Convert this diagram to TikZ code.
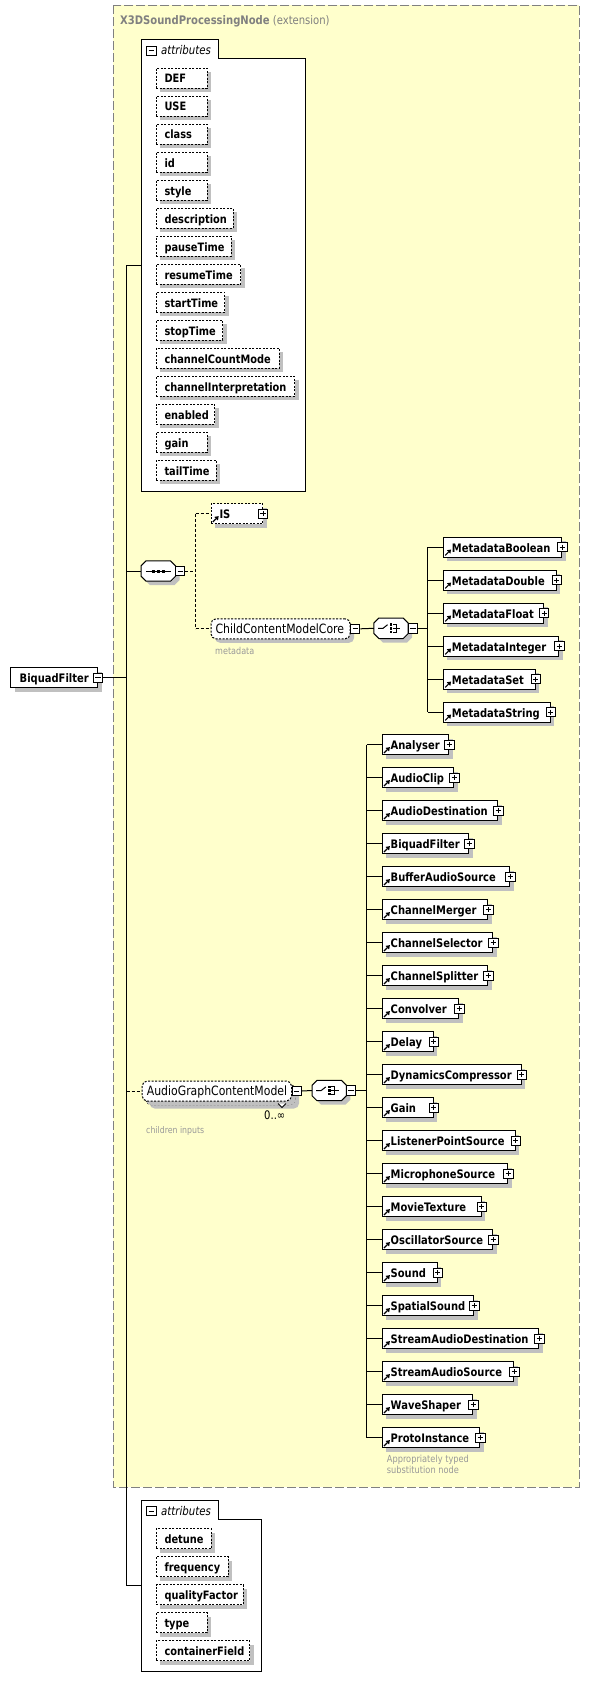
\documentclass[tikz,border=0pt]{standalone}
\usepackage{fontspec}
\setmainfont{DejaVu Sans}[FakeStretch=0.85]
\usetikzlibrary{shadows}
\definecolor{xyellow}{HTML}{FFFFCC}
\definecolor{xshadow}{HTML}{C0C0C0}
\definecolor{xgray}{HTML}{808080}
\definecolor{xlight}{HTML}{999999}
\tikzset{
  shd/.style={general shadow={fill=xshadow,shadow xshift=4pt,shadow yshift=-4pt}},
  elbox/.style={rectangle,draw=black,fill=white,line width=1pt,minimum height=20pt,inner sep=0pt,anchor=north west,shd},
  atbox/.style={elbox,dash pattern=on 2pt off 1.5pt},
  grpbox/.style={elbox,rounded corners=5pt,dash pattern=on 2pt off 1.5pt},
  eltext/.style={anchor=base west,inner sep=0pt,font=\fontsize{11.7pt}{13pt}\selectfont\bfseries},
  attext/.style={anchor=base west,inner sep=0pt,font=\fontsize{11.55pt}{13pt}\selectfont\bfseries},
  grptext/.style={anchor=base west,inner sep=0pt,font=\fontsize{12.8pt}{14pt}\selectfont},
  note/.style={anchor=base west,inner sep=0pt,text=xlight,font=\fontsize{9.5pt}{11pt}\selectfont},
  tabtext/.style={anchor=base west,inner sep=0pt,font=\fontsize{12pt}{13pt}\selectfont\itshape},
  pmbox/.style={rectangle,draw=black,fill=white,line width=0.9pt,minimum size=9.3pt,inner sep=0pt},
  minusbox/.style={pmbox,path picture={\draw[line width=0.9pt] ([xshift=2pt]path picture bounding box.west) -- ([xshift=-2pt]path picture bounding box.east);}},
  plusbox/.style={pmbox,path picture={\draw[line width=0.9pt] ([xshift=2pt]path picture bounding box.west) -- ([xshift=-2pt]path picture bounding box.east) ([yshift=-2pt]path picture bounding box.north) -- ([yshift=2pt]path picture bounding box.south);}},
  wire/.style={line width=1pt,draw=black},
  dwire/.style={wire,dash pattern=on 3pt off 2pt},
  symb/.style={rectangle,minimum width=34pt,minimum height=20pt,inner sep=0pt},
}
% reference arrow icon at bottom-left corner of a box
\newcommand\refarrow[1]{%
  \draw[line width=1.2pt] ([xshift=2.3pt,yshift=2.3pt]#1.south west) -- ([xshift=5.6pt,yshift=5.6pt]#1.south west);
  \fill ([xshift=8.2pt,yshift=8.2pt]#1.south west) -- ([xshift=3.9pt,yshift=7.4pt]#1.south west) -- ([xshift=7.4pt,yshift=3.9pt]#1.south west) -- cycle;
}
% element box: [style]{name}{left}{top}{right}{text}
\newcommand\elnode[6][elbox]{%
  \node[#1,minimum width={(#5-#3)*1pt}] (#2) at (#3,#4) {};
  \node[eltext] (#2-t) at ([xshift=8.8pt,yshift=-4.8pt]#2.west) {#6};
  \node[plusbox] (#2-p) at (#2.east) {};
  \refarrow{#2}
}
% attribute box: {name}{left}{top}{right}{text}
\newcommand\atnode[5]{%
  \node[atbox,minimum width={(#4-#2)*1pt}] (#1) at (#2,#3) {};
  \node[attext] (#1-t) at ([xshift=8.6pt,yshift=-4.8pt]#1.west) {#5};
}
\newcommand\octo[1]{%
  \draw[line width=1pt,fill=white,shd] ([xshift=5pt]#1.north west) -- ([xshift=-5pt]#1.north east) -- ([yshift=-5pt]#1.north east) -- ([yshift=5pt]#1.south east) -- ([xshift=-5pt]#1.south east) -- ([xshift=5pt]#1.south west) -- ([yshift=5pt]#1.south west) -- ([yshift=-5pt]#1.north west) -- cycle;
}
\newcommand\seqsym[1]{%
  \draw[line width=1pt] ([xshift=4.7pt]#1.west) -- ([xshift=-4.7pt]#1.east);
  \foreach \dx in {-4.7,0,4.7} \fill ([xshift=\dx pt]#1.center) +(-1.5,-1.5) rectangle +(1.5,1.5);
}
\newcommand\chsym[1]{%
  \draw[line width=1pt] ([xshift=-13pt]#1.center) -- ([xshift=-8pt]#1.center) -- ([xshift=-3.4pt,yshift=3.6pt]#1.center);
  \foreach \dy in {-3.7,0,3.7} \fill ([yshift=\dy pt]#1.center) +(-1.3,-1.2) rectangle +(1.3,1.2);
  \draw[line width=1pt] ([xshift=2pt,yshift=3.7pt]#1.center) -- ([xshift=5.4pt,yshift=3.7pt]#1.center) -- ([xshift=5.4pt,yshift=-3.7pt]#1.center) -- ([xshift=2pt,yshift=-3.7pt]#1.center);
  \draw[line width=1pt] ([xshift=1.5pt]#1.center) -- ([xshift=9.3pt]#1.center);
}
\begin{document}
\begin{tikzpicture}[x=1pt,y=-1pt]
\useasboundingbox (0,0) rectangle (590,1691);
% extension region
\draw[xgray,fill=xyellow,line width=1.2pt,dash pattern=on 9pt off 3pt] (113.3,5.3) rectangle (579.3,1487.3);
\node[anchor=base west,inner sep=0pt,text=xgray,font=\fontsize{11.8pt}{13pt}\selectfont] (title) at (120,24.3) {\textbf{X3DSoundProcessingNode} (extension)};

% main bus
\coordinate (busTop) at (126.7,265.2);
\coordinate (busBot) at (126.7,1585.5);
\coordinate (attrs1) at (141.7,265.2);
\coordinate (attrs2) at (141.7,1585.5);
\draw[wire] (busTop) -- (busBot);
\draw[wire] (busTop) -- (attrs1);
\draw[wire] (busBot) -- (attrs2);

% root element
\node[elbox,minimum width=86.8pt] (root) at (10.2,667.3) {};
\node[eltext] (root-t) at ([xshift=9.3pt,yshift=-4.8pt]root.west) {BiquadFilter};
\node[minusbox] (root-m) at (root.east) {};
\draw[wire] (root-m.east) -- (root-m.east -| busTop);

% attributes container (inherited)
\draw[wire,fill=white] (141.7,58.7) -- (141.7,39.3) -- (218.3,39.3) -- (218.3,58.7) -- (305.3,58.7) -- (305.3,491) -- (141.7,491) -- cycle;
\node[minusbox] (tab1-m) at (151.3,50.7) {};
\node[tabtext] (tab1-t) at (161,54.3) {attributes};
\atnode{aDEF}{155.7}{67.7}{206.7}{DEF}
\atnode{aUSE}{155.7}{95.7}{206.7}{USE}
\atnode{aclass}{155.7}{123.7}{206.7}{class}
\atnode{aid}{155.7}{151.7}{206.7}{id}
\atnode{astyle}{155.7}{179.7}{206.7}{style}
\atnode{adesc}{155.7}{207.7}{232.7}{description}
\atnode{apause}{155.7}{235.7}{230.7}{pauseTime}
\atnode{aresume}{155.7}{263.7}{240}{resumeTime}
\atnode{astart}{155.7}{291.7}{224.3}{startTime}
\atnode{astop}{155.7}{319.7}{222.3}{stopTime}
\atnode{accm}{155.7}{347.7}{278.7}{channelCountMode}
\atnode{aci}{155.7}{375.7}{294}{channelInterpretation}
\atnode{aenabled}{155.7}{403.7}{214.3}{enabled}
\atnode{again}{155.7}{431.7}{206.7}{gain}
\atnode{atail}{155.7}{459.7}{215.7}{tailTime}

% sequence
\node[symb] (seq) at (158.3,571) {};
\octo{seq}
\seqsym{seq}
\node[minusbox] (seq-m) at ([xshift=4.65pt]seq.east) {};
\draw[wire] (seq.west -| busTop) -- (seq.west);

% IS and ChildContentModelCore
\elnode[atbox]{is}{210.5}{503.3}{262}{IS}
\node[grpbox,minimum width=139.1pt] (ccmc) at (210.5,618.3) {};
\node[grptext] (ccmc-t) at ([xshift=4.9pt,yshift=-4.5pt]ccmc.west) {ChildContentModelCore};
\node[minusbox] (ccmc-m) at ([xshift=4.65pt]ccmc.east) {};
\node[note] (ccmc-n) at (215,654) {metadata};
\coordinate (sj) at (195.5,571);
\draw[dwire] (seq-m.east) -- (sj);
\draw[dwire] (is.west -| sj) -- (ccmc.west -| sj);
\draw[dwire] (is.west -| sj) -- (is.west);
\draw[dwire] (ccmc.west -| sj) -- (ccmc.west);

% choice metadata
\node[symb] (ch1) at (391,628.3) {};
\octo{ch1}
\chsym{ch1}
\node[minusbox] (ch1-m) at ([xshift=4.65pt]ch1.east) {};
\draw[wire] (ccmc-m.east) -- (ch1.west);
\coordinate (mbus) at (427.8,628.3);
\draw[wire] (ch1-m.east) -- (mbus);
\elnode{mBool}{442.9}{536.7}{561.3}{MetadataBoolean}
\elnode{mDouble}{442.9}{569.7}{555.6}{MetadataDouble}
\elnode{mFloat}{442.9}{602.7}{543.2}{MetadataFloat}
\elnode{mInt}{442.9}{635.7}{558.3}{MetadataInteger}
\elnode{mSet}{442.9}{668.7}{534.6}{MetadataSet}
\elnode{mStr}{442.9}{701.7}{549.6}{MetadataString}
\draw[wire] (mBool.west -| mbus) -- (mStr.west -| mbus);
\foreach \n in {mBool,mDouble,mFloat,mInt,mSet,mStr} \draw[wire] (\n.west -| mbus) -- (\n.west);

% AudioGraphContentModel
\node[grpbox,minimum width=149.3pt] (agcm-b) at (145.2,1084) {};
\node[grpbox,minimum width=149.3pt,general shadow={fill=none,draw=none}] (agcm) at (141.7,1080.5) {};
\draw[line width=0.8pt,fill=white] (278,1103.5) -- (282,1107.5) -- (286,1103.5);
\node[grptext] (agcm-t) at ([xshift=5pt,yshift=-4.5pt]agcm.west) {AudioGraphContentModel};
\node[minusbox] (agcm-m) at ([xshift=4.65pt]agcm.east) {};
\node[anchor=base west,inner sep=0pt,font=\fontsize{11.8pt}{13pt}\selectfont] (agcm-o) at (264,1119) {0..∞};
\node[note,font=\fontsize{9.2pt}{11pt}\selectfont] (agcm-n) at (146,1133) {children inputs};
\draw[dwire] (agcm.west -| busTop) -- (agcm.west);

% choice audio nodes
\node[symb] (ch2) at (329.2,1090.5) {};
\octo{ch2}
\chsym{ch2}
\node[minusbox] (ch2-m) at ([xshift=4.65pt]ch2.east) {};
\draw[wire] (agcm-m.east) -- (ch2.west);
\coordinate (abus) at (366.7,1090.5);
\draw[wire] (ch2-m.east) -- (abus);
\elnode{e1}{381.7}{734.3}{448.3}{Analyser}
\elnode{e2}{381.7}{767.3}{453.3}{AudioClip}
\elnode{e3}{381.7}{800.3}{497.3}{AudioDestination}
\elnode{e4}{381.7}{833.3}{468.3}{BiquadFilter}
\elnode{e5}{381.7}{866.3}{509.3}{BufferAudioSource}
\elnode{e6}{381.7}{899.3}{487.3}{ChannelMerger}
\elnode{e7}{381.7}{932.3}{492.3}{ChannelSelector}
\elnode{e8}{381.7}{965.3}{487.3}{ChannelSplitter}
\elnode{e9}{381.7}{998.3}{458.3}{Convolver}
\elnode{e10}{381.7}{1031.3}{432.7}{Delay}
\elnode{e11}{381.7}{1064.3}{520.7}{DynamicsCompressor}
\elnode{e12}{381.7}{1097.3}{432.7}{Gain}
\elnode{e13}{381.7}{1130.3}{514.7}{ListenerPointSource}
\elnode{e14}{381.7}{1163.3}{507.3}{MicrophoneSource}
\elnode{e15}{381.7}{1196.3}{480.7}{MovieTexture}
\elnode{e16}{381.7}{1229.3}{492.3}{OscillatorSource}
\elnode{e17}{381.7}{1262.3}{436.7}{Sound}
\elnode{e18}{381.7}{1295.3}{473.3}{SpatialSound}
\elnode{e19}{381.7}{1328.3}{538.3}{StreamAudioDestination}
\elnode{e20}{381.7}{1361.3}{513.3}{StreamAudioSource}
\elnode{e21}{381.7}{1394.3}{472.3}{WaveShaper}
\elnode{e22}{381.7}{1427.3}{479.3}{ProtoInstance}
\draw[wire] (e1.west -| abus) -- (e22.west -| abus);
\foreach \i in {1,...,22} \draw[wire] (e\i.west -| abus) -- (e\i.west);
\node[note,font=\fontsize{9.7pt}{11pt}\selectfont] (e22-n1) at (386.7,1462.5) {Appropriately typed};
\node[note,font=\fontsize{9.7pt}{11pt}\selectfont] (e22-n2) at (386.7,1473.5) {substitution node};

% own attributes
\draw[wire,fill=white] (141.7,1519.3) -- (141.7,1500) -- (218.3,1500) -- (218.3,1519.3) -- (261.7,1519.3) -- (261.7,1671) -- (141.7,1671) -- cycle;
\node[minusbox] (tab2-m) at (151.3,1511.2) {};
\node[tabtext] (tab2-t) at (161,1515) {attributes};
\atnode{bdetune}{155.7}{1528.3}{210.7}{detune}
\atnode{bfreq}{155.7}{1556.3}{227.7}{frequency}
\atnode{bq}{155.7}{1584.3}{242.7}{qualityFactor}
\atnode{btype}{155.7}{1612.3}{206.7}{type}
\atnode{bcf}{155.7}{1640.3}{249.3}{containerField}
\end{tikzpicture}
\end{document}
